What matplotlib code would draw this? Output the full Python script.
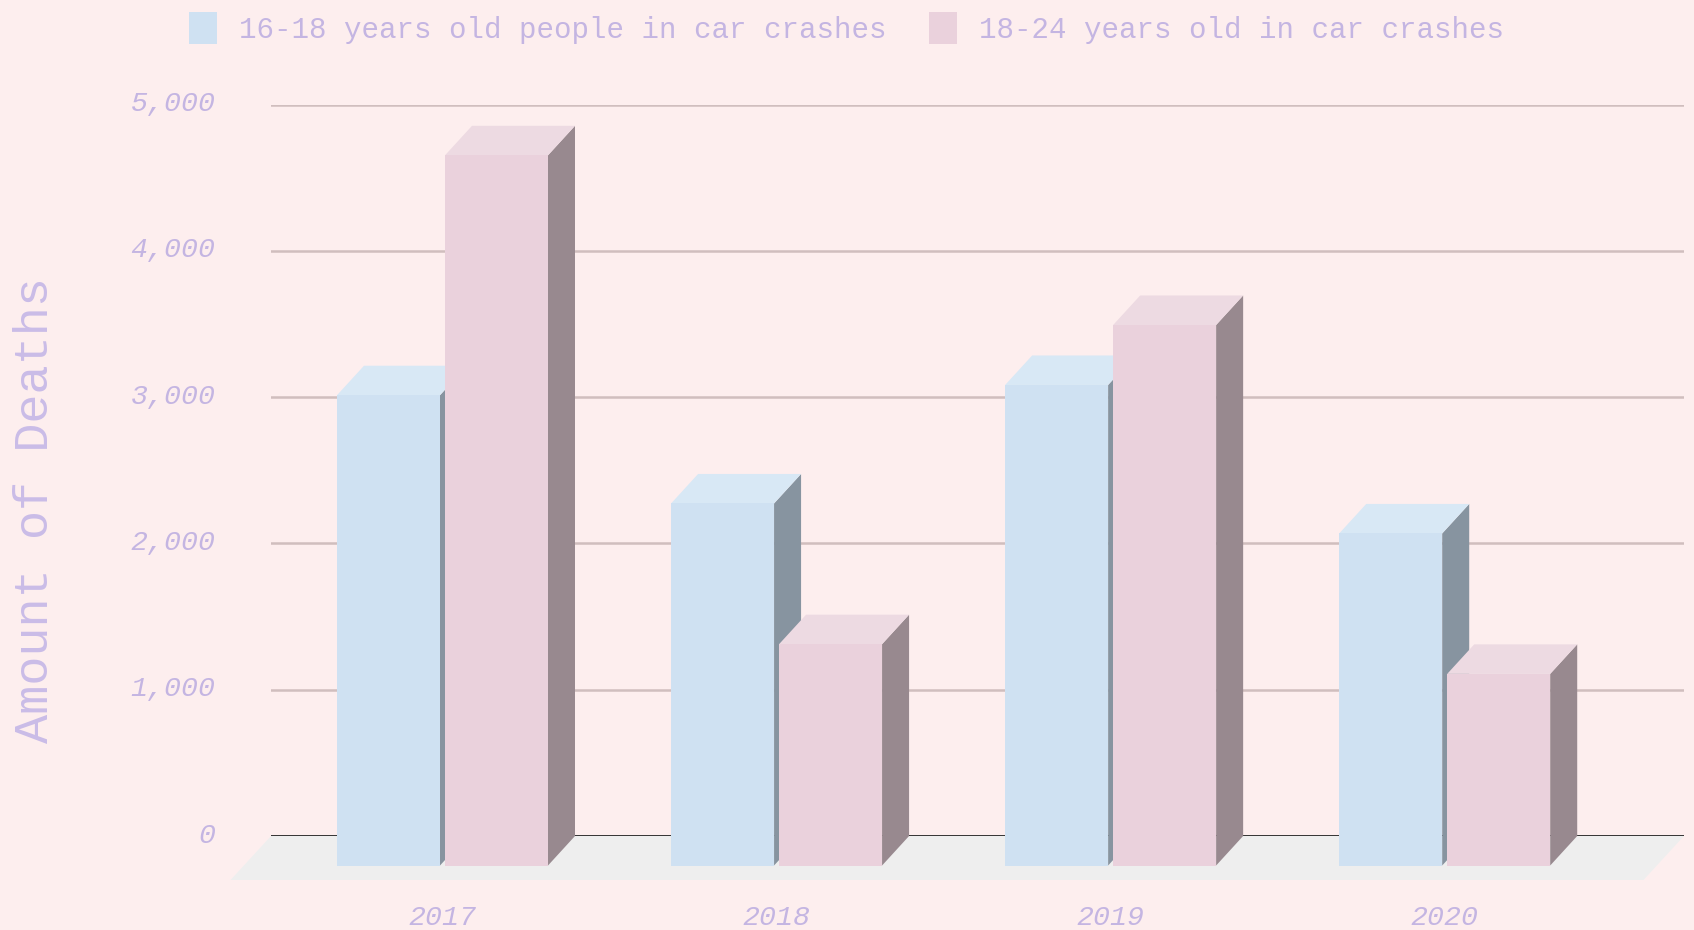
import matplotlib
matplotlib.use("Agg")
import matplotlib.pyplot as plt
import matplotlib.transforms as mtrans
from matplotlib.patches import Polygon, Patch

# ---- data ----
years = ["2017", "2018", "2019", "2020"]
teen_deaths = [3215, 2475, 3285, 2270]        # 16-18 years old people in car crashes
young_deaths = [4855, 1513, 3695, 1310]       # 18-24 years old in car crashes
series_names = ["16-18 years old people in car crashes", "18-24 years old in car crashes"]
yticks = [0, 1000, 2000, 3000, 4000, 5000]

# ---- style ----
W, H = 1694, 930
bg = "#FDEEEE"
txt = "#C4B5E2"
title_col = "#CABCE7"
grid_col = "#D0BEBE"
floor_col = "#EEEEEE"
faces = [
    dict(front="#CFE1F2", top="#D8E8F5", side="#8794A0"),
    dict(front="#EAD1DC", top="#EDDAE2", side="#98898F"),
]
mono = ["Liberation Mono", "DejaVu Sans Mono"]

# pixel layout
cat0_px, step_px = 442.5, 334.07
plot_l, plot_r = 271, 1684
y0_px, y5k_px = 836, 104.6
px_per_val = (y0_px - y5k_px) / 5000
bar_w = 103 / step_px
gap = 5 / step_px
dx = 27 / step_px
dy = 29.5 / px_per_val
floor_dx = 40.5 / step_px
floor_dy = 44 / px_per_val

fig = plt.figure(figsize=(W / 100, H / 100), dpi=100)
fig.patch.set_facecolor(bg)
ax = fig.add_axes([plot_l / W, (H - y0_px) / H, (plot_r - plot_l) / W, (y0_px - y5k_px) / H])
ax.set_facecolor("none")
xl = (plot_l - cat0_px) / step_px
xr = (plot_r - cat0_px) / step_px
ax.set_xlim(xl, xr)
ax.set_ylim(0, 5000)
for s in ax.spines.values():
    s.set_visible(False)

# floor
ax.add_patch(Polygon([(xl, 0), (xr, 0), (xr - floor_dx, -floor_dy), (xl - floor_dx, -floor_dy)],
                     closed=True, facecolor=floor_col, edgecolor="none", zorder=0.5, clip_on=False))

# grid
for v in yticks[1:]:
    ax.axhline(v, color=grid_col, lw=1.8, zorder=1)
ax.axhline(0, color="#222222", lw=2.0, zorder=2)

# bars
def bar3d(x0, v, f, z):
    x1 = x0 + bar_w
    ax.add_patch(Polygon([(x1, -dy), (x1 + dx, 0), (x1 + dx, v), (x1, v - dy)], closed=True,
                         facecolor=f["side"], edgecolor="none", zorder=z, clip_on=False))
    ax.add_patch(Polygon([(x0, v - dy), (x1, v - dy), (x1 + dx, v), (x0 + dx, v)], closed=True,
                         facecolor=f["top"], edgecolor="none", zorder=z, clip_on=False))
    ax.add_patch(Polygon([(x0, -dy), (x1, -dy), (x1, v - dy), (x0, v - dy)], closed=True,
                         facecolor=f["front"], edgecolor="none", zorder=z + 0.1, clip_on=False))

for i in range(len(years)):
    bar3d(i - gap / 2 - bar_w, teen_deaths[i], faces[0], 3)
for i in range(len(years)):
    bar3d(i + gap / 2, young_deaths[i], faces[1], 4)

# ticks
ax.set_yticks(yticks)
ax.set_yticklabels([f"{v:,}" for v in yticks], fontstyle="italic", family=mono,
                   fontsize=20.3, color=txt)
ax.set_xticks(range(len(years)))
ax.set_xticklabels(years, fontstyle="italic", family=mono, fontsize=20.3, color=txt)
ax.tick_params(axis="y", length=0, pad=40)
ax.tick_params(axis="x", length=0, pad=50)
up = mtrans.ScaledTranslation(0, 3.5 / 100, fig.dpi_scale_trans)
for lab in ax.get_yticklabels():
    lab.set_transform(lab.get_transform() + up)

# y title
fig.text(36 / W, 1 - 510 / H, "Amount of Deaths", rotation=90, ha="center", va="center",
         family=mono, fontsize=35, color=title_col)

# legend
handles = [Patch(facecolor=faces[k]["front"], edgecolor="none", label=series_names[k]) for k in range(2)]
leg = fig.legend(handles=handles, loc="upper left", bbox_to_anchor=(189 / W, 1 - 12 / H), ncol=2,
                 frameon=False, prop=dict(family=mono, size=21), handlelength=0.96, handleheight=1.3,
                 handletextpad=0.75, columnspacing=1.45, borderpad=0, borderaxespad=0)
for t in leg.get_texts():
    t.set_color(txt)

fig.savefig("out.png", dpi=100, facecolor=bg)
